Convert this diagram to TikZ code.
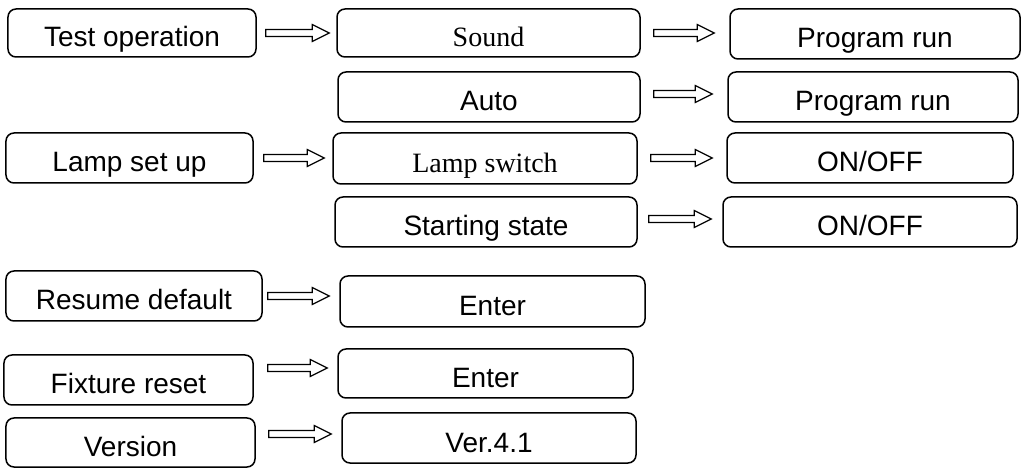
\documentclass[tikz,border=0pt]{standalone}
\usepackage{fontspec}
\setmainfont{Liberation Sans}
\newfontfamily\tnrfont{Liberation Serif}
\usetikzlibrary{calc}
\tikzset{
  box/.style={draw, line width=1.5bp, rounded corners=8bp, inner sep=0pt,
    text height=28bp, text depth=0pt, font=\fontsize{28bp}{30bp}\selectfont},
  serifbox/.style={box, font=\tnrfont\fontsize{28bp}{30bp}\selectfont},
  hollowarrow/.style={draw, line width=1.2bp, line join=miter}
}
% #1 source, #2 target, #3 start gap, #4 end gap, #5 y (image coords)
\newcommand\harrow[5]{%
  \draw[hollowarrow] let \p1=(#1.east), \p2=(#2.west), \p3=(0,#5) in
   (\x1+#3bp,\y3+3.5bp) -- (\x2-#4bp-17bp,\y3+3.5bp) -- (\x2-#4bp-17bp,\y3+8.5bp)
   -- (\x2-#4bp,\y3) -- (\x2-#4bp-17bp,\y3-8.5bp) -- (\x2-#4bp-17bp,\y3-3.5bp)
   -- (\x1+#3bp,\y3-3.5bp) -- cycle;}
\begin{document}
\begin{tikzpicture}[x=1bp,y=-1bp]
\useasboundingbox (0,0) rectangle (1027,468);
% column 1
\node[box, minimum width=248bp, minimum height=48bp] (test) at (132,33) {Test operation};
\node[box, minimum width=247bp, minimum height=50bp] (lamp) at (129.5,158) {Lamp set up};
\node[box, minimum width=256bp, minimum height=50bp] (resume) at (134,296) {Resume default};
\node[box, minimum width=249bp, minimum height=50bp] (fixture) at (128.5,380) {Fixture reset};
\node[box, minimum width=249bp, minimum height=49bp] (version) at (130.5,442.5) {Version};
% column 2
\node[serifbox, minimum width=303bp, minimum height=48bp] (sound) at (488.5,33) {Sound};
\node[box, minimum width=302bp, minimum height=50bp] (auto) at (489,97) {Auto};
\node[serifbox, minimum width=304bp, minimum height=51bp] (lswitch) at (485,158.5) {Lamp switch};
\node[box, minimum width=302bp, minimum height=50bp] (start) at (486,222) {Starting state};
\node[box, minimum width=305bp, minimum height=51bp] (enter1) at (492.5,301.5) {Enter};
\node[box, minimum width=295bp, minimum height=49bp] (enter2) at (485.5,373.5) {Enter};
\node[box, minimum width=294bp, minimum height=50bp] (ver) at (489,438) {Ver.4.1};
% column 3
\node[box, minimum width=290bp, minimum height=50bp] (prun1) at (875,34) {Program run};
\node[box, minimum width=290bp, minimum height=50bp] (prun2) at (873,97) {Program run};
\node[box, minimum width=286bp, minimum height=50bp] (on1) at (870,158) {ON/OFF};
\node[box, minimum width=294bp, minimum height=50bp] (on2) at (870,222) {ON/OFF};
% arrows
\harrow{test}{sound}{9}{7}{33}
\harrow{sound}{prun1}{13}{15}{33}
\harrow{auto}{prun2}{13}{15}{94}
\harrow{lamp}{lswitch}{10}{8}{158}
\harrow{lswitch}{on1}{13}{14}{158}
\harrow{start}{on2}{11}{11}{219}
\harrow{resume}{enter1}{5}{10}{296}
\harrow{fixture}{enter2}{14}{10}{368}
\harrow{version}{ver}{13}{10}{434}
\end{tikzpicture}
\end{document}
